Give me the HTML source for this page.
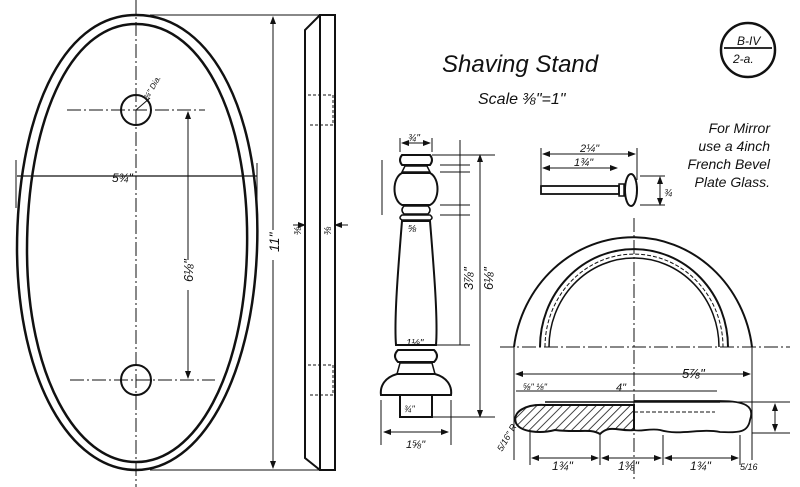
<!DOCTYPE html>
<html><head><meta charset="utf-8"><style>
html,body{margin:0;padding:0;background:#fff;}
svg{display:block;}
text{font-family:"Liberation Sans",sans-serif;font-style:italic;fill:#111;}
</style></head><body>
<svg width="800" height="487" viewBox="0 0 800 487" xmlns="http://www.w3.org/2000/svg">
<defs>
<marker id="a" markerWidth="8" markerHeight="6" refX="7" refY="3" orient="auto"><path d="M0,0 L8,3 L0,6 z" fill="#111"/></marker>
<marker id="b" markerWidth="8" markerHeight="6" refX="1" refY="3" orient="auto"><path d="M8,0 L0,3 L8,6 z" fill="#111"/></marker>
<pattern id="h" width="6" height="6" patternUnits="userSpaceOnUse" patternTransform="rotate(45)"><line x1="0" y1="0" x2="0" y2="6" stroke="#111" stroke-width="1.6"/></pattern>
</defs>
<g fill="none" stroke="#111">
<!-- mirror front -->
<path d="M136,15 C215,15 262,120 257,250 C252,380 200,470 136,470 C70,470 18,380 17,250 C17,120 60,15 136,15 Z" stroke-width="2.5"/>
<path d="M136,24 C206,24 250,125 247,250 C244,375 196,462 136,462 C76,462 27,375 27,250 C27,125 68,24 136,24 Z" stroke-width="2.5"/>
<circle cx="136" cy="110" r="15" stroke-width="2"/>
<circle cx="136" cy="380" r="15" stroke-width="2"/>
<line x1="136" y1="0" x2="136" y2="487" stroke-width="1" stroke-dasharray="14,3,2,3"/>
<line x1="67" y1="110" x2="205" y2="110" stroke-dasharray="14,3,2,3"/>
<line x1="70" y1="380" x2="215" y2="380" stroke-dasharray="14,3,2,3"/>
<line x1="17" y1="176" x2="257" y2="176" stroke-width="1.2"/>
<line x1="16" y1="160" x2="16" y2="208"/><line x1="257" y1="163" x2="257" y2="200"/>
<line x1="188" y1="112" x2="188" y2="260" marker-start="url(#b)"/>
<line x1="188" y1="290" x2="188" y2="378" marker-end="url(#a)"/>
<line x1="136" y1="110" x2="150" y2="98"/>
<line x1="150" y1="15" x2="320" y2="15"/><line x1="150" y1="470" x2="320" y2="470"/>
<line x1="273" y1="17" x2="273" y2="230" marker-start="url(#b)"/>
<line x1="273" y1="260" x2="273" y2="468" marker-end="url(#a)"/>
<!-- side view -->
<path d="M320,15 L335,15 L335,470 L320,470 Z" stroke-width="2"/>
<path d="M320,15 L305,30 L305,458 L320,470" stroke-width="2"/>
<line x1="290" y1="15" x2="318" y2="15"/>
<path d="M308,95 H333 V125 H308" stroke-dasharray="3,2"/>
<path d="M308,365 H333 V395 H308" stroke-dasharray="3,2"/>
<line x1="293" y1="225" x2="305" y2="225" marker-end="url(#a)"/>
<line x1="348" y1="225" x2="335" y2="225" marker-end="url(#a)"/>
<!-- column -->
<path d="M402,155 H430 Q434,160 430,165 H402 Q398,160 402,155 Z" stroke-width="2"/>
<path d="M405,166 H427 L430,172 H402 Z" stroke-width="1.5"/>
<path d="M402,173 C392,178 392,200 402,205 H430 C440,200 440,178 430,173 Z" stroke-width="2"/>
<path d="M404,206 H428 Q432,210 428,214 H404 Q400,210 404,206 Z" stroke-width="1.5"/>
<path d="M402,215 Q398,218 402,220 H430 Q434,218 430,215 Z" stroke-width="1.5"/>
<path d="M402,221 C398,270 394,320 396,345 H436 C438,320 434,270 430,221 Z" stroke-width="2"/>
<path d="M398,350 Q392,356 398,362 H434 Q440,356 434,350 Z" stroke-width="2"/>
<path d="M400,363 L397,374 H435 L432,363 Z" stroke-width="1.5"/>
<path d="M397,374 C383,378 380,388 381,395 H451 C452,388 449,378 435,374 Z" stroke-width="2"/>
<rect x="400" y="395" width="32" height="22" stroke-width="2"/>
<line x1="381" y1="400" x2="381" y2="445"/><line x1="451" y1="400" x2="451" y2="445"/>
<line x1="384" y1="432" x2="448" y2="432" marker-start="url(#b)" marker-end="url(#a)"/>
<line x1="400" y1="138" x2="400" y2="152"/><line x1="432" y1="138" x2="432" y2="152"/>
<line x1="402" y1="143" x2="430" y2="143" marker-start="url(#b)" marker-end="url(#a)"/>
<line x1="460" y1="140" x2="460" y2="345"/>
<line x1="480" y1="155" x2="480" y2="417" marker-start="url(#b)" marker-end="url(#a)"/>
<line x1="432" y1="155" x2="495" y2="155"/><line x1="432" y1="417" x2="495" y2="417"/>
<line x1="436" y1="345" x2="470" y2="345"/>
<line x1="382" y1="160" x2="382" y2="215"/>
<line x1="440" y1="165" x2="470" y2="165"/><line x1="440" y1="172" x2="470" y2="172"/><line x1="440" y1="205" x2="470" y2="205"/><line x1="440" y1="215" x2="470" y2="215"/>
<!-- peg -->
<rect x="541" y="186" width="78" height="8" stroke-width="1.8"/>
<rect x="619" y="184" width="5" height="12" stroke-width="1.5"/>
<ellipse cx="631" cy="190" rx="6" ry="16" stroke-width="2"/>
<line x1="541" y1="148" x2="541" y2="185"/><line x1="637" y1="148" x2="637" y2="180"/>
<line x1="543" y1="154" x2="635" y2="154" marker-start="url(#b)" marker-end="url(#a)"/>
<line x1="543" y1="168" x2="617" y2="168" marker-start="url(#b)" marker-end="url(#a)"/>
<line x1="660" y1="177" x2="660" y2="205" marker-start="url(#b)" marker-end="url(#a)"/>
<line x1="640" y1="176" x2="665" y2="176"/><line x1="640" y1="205" x2="665" y2="205"/>
<!-- arch -->
<path d="M514,347 A120,126 0 0 1 752,347" stroke-width="2"/>
<path d="M540,347 A94,98 0 0 1 728,347" stroke-width="2"/>
<path d="M545,347 A89,93 0 0 1 723,347" stroke-dasharray="4,2"/>
<path d="M549,347 A85,89 0 0 1 719,347" stroke-width="1.5"/>
<line x1="634" y1="218" x2="634" y2="480" stroke-dasharray="14,3,2,3"/>
<line x1="500" y1="347" x2="790" y2="347" stroke-dasharray="14,3,2,3"/>
<line x1="514" y1="347" x2="514" y2="460"/><line x1="752" y1="347" x2="752" y2="460"/>
<line x1="516" y1="374" x2="750" y2="374" marker-start="url(#b)" marker-end="url(#a)"/>
<line x1="516" y1="391" x2="717" y2="391"/>
<path d="M545,405 H634 V430 C620,432 610,424 600,434 C590,428 580,433 555,430 C540,434 520,432 516,423 C512,412 525,404 545,405 Z" fill="url(#h)" stroke-width="2"/>
<path d="M634,401 H720 C745,401 755,406 750,420 C748,432 740,433 720,432 C700,428 680,436 660,430 C650,428 640,432 634,430" stroke-width="1.8"/>
<line x1="545" y1="402" x2="720" y2="402" stroke-width="1.5"/>
<line x1="634" y1="412" x2="715" y2="412" stroke-dasharray="4,2"/>
<line x1="720" y1="402" x2="790" y2="402"/><line x1="752" y1="433" x2="790" y2="433"/>
<line x1="775" y1="404" x2="775" y2="431" marker-start="url(#b)" marker-end="url(#a)"/>
<line x1="530" y1="430" x2="530" y2="465"/><line x1="600" y1="435" x2="600" y2="465"/><line x1="663" y1="435" x2="663" y2="465"/><line x1="740" y1="435" x2="740" y2="465"/>
<line x1="532" y1="458" x2="598" y2="458" marker-start="url(#b)" marker-end="url(#a)"/>
<line x1="602" y1="458" x2="661" y2="458" marker-start="url(#b)" marker-end="url(#a)"/>
<line x1="665" y1="458" x2="738" y2="458" marker-start="url(#b)" marker-end="url(#a)"/>
<!-- B-IV -->
<circle cx="748" cy="50" r="27" stroke-width="2.5"/>
<line x1="724" y1="48" x2="772" y2="48" stroke-width="1.8"/>
</g>
<text x="112" y="182" font-size="12">5¾"</text>
<text transform="translate(193,282) rotate(-90)" font-size="13">6⅛"</text>
<text transform="translate(279,252) rotate(-90)" font-size="14">11"</text>
<text transform="translate(148,100) rotate(-60)" font-size="8">¾" Dia.</text>
<text transform="translate(301,235) rotate(-90)" font-size="10">⅜</text>
<text transform="translate(331,235) rotate(-90)" font-size="10">⅜</text>
<text x="442" y="72" font-size="24">Shaving Stand</text>
<text x="478" y="104" font-size="16">Scale ⅜"=1"</text>
<text x="737" y="45" font-size="12" font-style="normal">B-IV</text>
<text x="733" y="63" font-size="12">2-a.</text>
<text x="770" y="133" font-size="14" text-anchor="end">For Mirror</text>
<text x="770" y="151" font-size="14" text-anchor="end">use a 4inch</text>
<text x="770" y="169" font-size="14" text-anchor="end">French Bevel</text>
<text x="770" y="187" font-size="14" text-anchor="end">Plate Glass.</text>
<text x="408" y="141" font-size="10">¾"</text>
<text x="408" y="232" font-size="10">⅝</text>
<text x="406" y="346" font-size="10">1⅛"</text>
<text x="404" y="412" font-size="9">¾"</text>
<text x="406" y="448" font-size="11">1⅝"</text>
<text transform="translate(473,290) rotate(-90)" font-size="13">3⅞"</text>
<text transform="translate(493,290) rotate(-90)" font-size="13">6⅛"</text>
<text x="580" y="152" font-size="11">2¼"</text>
<text x="574" y="166" font-size="11">1¾"</text>
<text x="664" y="196" font-size="10">¾</text>
<text x="682" y="378" font-size="13">5⅞"</text>
<text x="616" y="391" font-size="11">4"</text>
<text x="523" y="390" font-size="9">⅝" ⅛"</text>
<text x="552" y="470" font-size="12">1¾"</text>
<text x="618" y="470" font-size="12">1⅜"</text>
<text x="690" y="470" font-size="12">1¾"</text>
<text x="740" y="470" font-size="9">5/16</text>
<text transform="translate(502,452) rotate(-60)" font-size="9">5/16" R.</text>
</svg>
</body></html>
